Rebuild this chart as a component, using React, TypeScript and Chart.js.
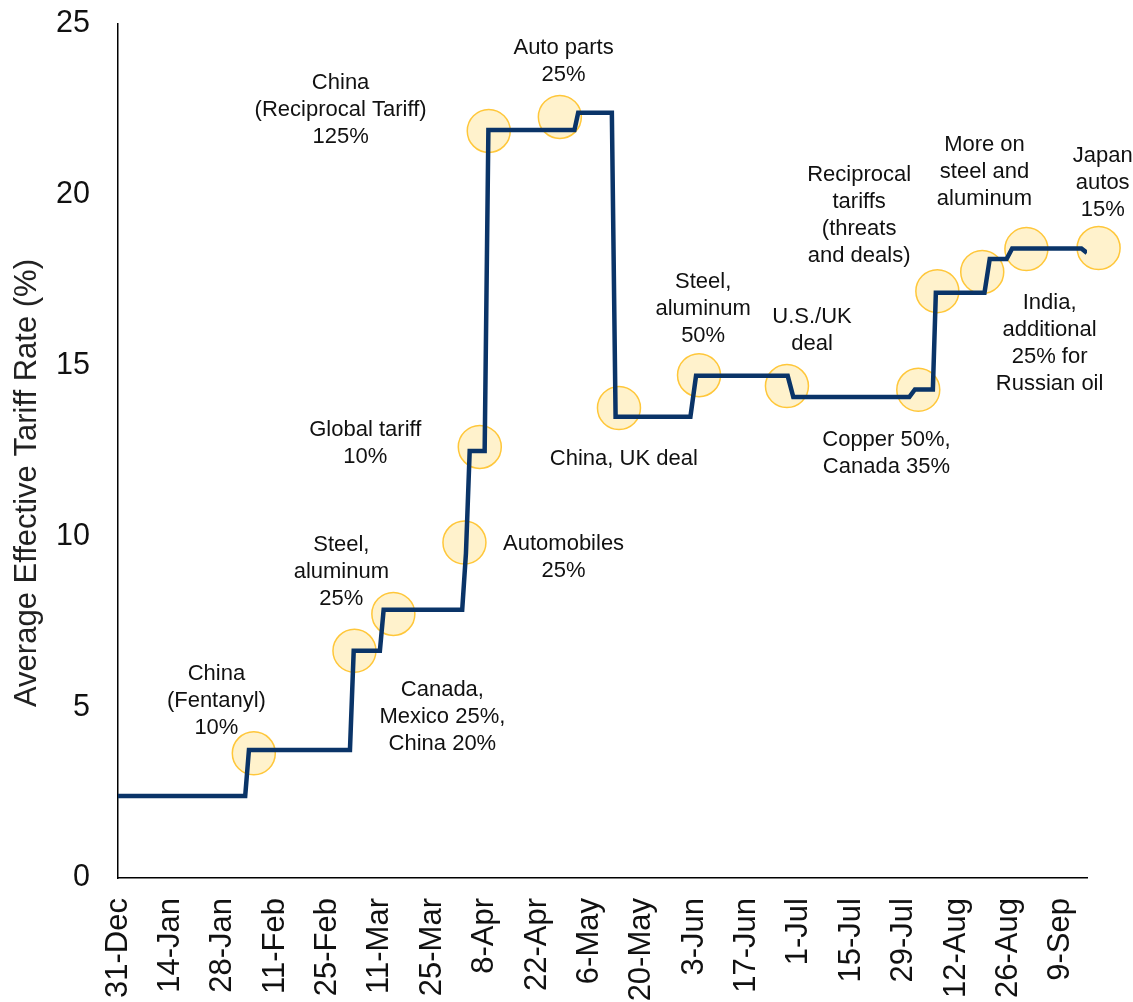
import React, { useEffect, useRef } from "react";
import { Chart, registerables } from "chart.js";

Chart.register(...registerables);

// X axis: days since 31-Dec-2024
const tickDays = [0, 14, 28, 42, 56, 70, 84, 98, 112, 126, 140, 154, 168, 182, 196, 210, 224, 238, 252];
const tickLabels = [
  "31-Dec", "14-Jan", "28-Jan", "11-Feb", "25-Feb", "11-Mar", "25-Mar", "8-Apr", "22-Apr",
  "6-May", "20-May", "3-Jun", "17-Jun", "1-Jul", "15-Jul", "29-Jul", "12-Aug", "26-Aug", "9-Sep",
];

// Average effective tariff rate (%) at change points
const rateDays = [0, 34, 35, 62, 63, 70, 71, 92, 93, 94, 98, 99, 122, 123, 132, 133, 153, 154.5, 179, 180.5, 211.5, 213, 217.8, 218.6, 231.6, 233, 237.5, 239, 257.5, 259];
const rateValues = [2.4, 2.4, 3.75, 3.75, 6.65, 6.65, 7.85, 7.85, 9.5, 12.5, 12.5, 21.9, 21.9, 22.4, 22.4, 13.5, 13.5, 14.7, 14.7, 14.08, 14.08, 14.3, 14.3, 17.13, 17.13, 18.12, 18.12, 18.43, 18.43, 18.3];

// Event markers (circles)
const eventDays = [36.3, 63.2, 73.6, 92.6, 96.7, 99.1, 118.1, 133.9, 155.3, 178.8, 213.9, 219, 231, 242.8, 262.1];
const eventValues = [3.65, 6.65, 7.73, 9.82, 12.62, 21.87, 22.28, 13.76, 14.72, 14.4, 14.29, 17.18, 17.74, 18.41, 18.44];

// Event labels
const eventLabels = [
  ["China", "(Fentanyl)", "10%"],
  ["Canada,", "Mexico 25%,", "China 20%"],
  ["Steel,", "aluminum", "25%"],
  ["Automobiles", "25%"],
  ["Global tariff", "10%"],
  ["China", "(Reciprocal Tariff)", "125%"],
  ["Auto parts", "25%"],
  ["China, UK deal"],
  ["Steel,", "aluminum", "50%"],
  ["U.S./UK", "deal"],
  ["Copper 50%,", "Canada 35%"],
  ["Reciprocal", "tariffs", "(threats", "and deals)"],
  ["More on", "steel and", "aluminum"],
  ["India,", "additional", "25% for", "Russian oil"],
  ["Japan", "autos", "15%"],
];
const labelDays = [26.3, 86.7, 59.7, 119.1, 66.1, 59.5, 119.1, 135.2, 156.4, 185.5, 205.4, 198.1, 231.6, 249, 263.2];
const labelValues = [5.18, 4.71, 8.96, 9.38, 12.72, 22.48, 23.89, 12.27, 16.66, 16.04, 12.44, 19.4, 20.67, 15.66, 20.35];

const FONT = '"Liberation Sans", Arial, sans-serif';

const eventsPlugin = {
  id: "events",
  beforeDatasetsDraw(chart: any) {
    const { ctx, scales } = chart;
    ctx.save();
    for (let i = 0; i < eventDays.length; i++) {
      const x = scales.x.getPixelForValue(eventDays[i]);
      const y = scales.y.getPixelForValue(eventValues[i]);
      ctx.beginPath();
      ctx.arc(x, y, 21.5, 0, Math.PI * 2);
      ctx.fillStyle = "#FFF2CC";
      ctx.fill();
      ctx.lineWidth = 1.5;
      ctx.strokeStyle = "#FFC73A";
      ctx.stroke();
    }
    ctx.restore();
  },
  afterDraw(chart: any) {
    const { ctx, scales } = chart;
    ctx.save();
    ctx.fillStyle = "#111";
    ctx.font = `22px ${FONT}`;
    ctx.textAlign = "center";
    ctx.textBaseline = "middle";
    const lh = 27;
    for (let i = 0; i < eventLabels.length; i++) {
      const lines = eventLabels[i];
      const cx = scales.x.getPixelForValue(labelDays[i]);
      const cy = scales.y.getPixelForValue(labelValues[i]);
      const y0 = cy - ((lines.length - 1) * lh) / 2;
      lines.forEach((t, k) => ctx.fillText(t, cx, y0 + k * lh));
    }
    // Axis title
    ctx.translate(27, 483);
    ctx.rotate(-Math.PI / 2);
    ctx.font = `31px ${FONT}`;
    ctx.fillStyle = "#222";
    ctx.fillText("Average Effective Tariff Rate (%)", 0, 0);
    ctx.restore();
  },
};

const zeroPad = (s: any) => {
  s.paddingTop = 0;
  s.paddingBottom = 0;
  s.paddingLeft = 0;
  s.paddingRight = 0;
};

export default function App() {
  const ref = useRef<HTMLCanvasElement | null>(null);
  useEffect(() => {
    if (!ref.current) return;
    const chart = new Chart(ref.current, {
      type: "line",
      data: {
        datasets: [
          {
            data: rateDays.map((d, i) => ({ x: d, y: rateValues[i] })),
            borderColor: "#0A3468",
            borderWidth: 4.5,
            pointRadius: 0,
            tension: 0,
            fill: false,
            borderJoinStyle: "miter",
          },
        ],
      },
      options: {
        animation: false,
        responsive: false,
        devicePixelRatio: 1,
        layout: { padding: { left: 0, top: 24, right: 46, bottom: 0 } },
        plugins: { legend: { display: false }, tooltip: { enabled: false } },
        scales: {
          x: {
            type: "linear",
            min: 0,
            max: 259,
            border: { display: true, color: "#000", width: 1.5 },
            grid: { display: false, drawTicks: false },
            afterBuildTicks: (s: any) => {
              s.ticks = tickDays.map((v) => ({ value: v }));
            },
            afterFit: (s: any) => {
              s.height = 124;
              zeroPad(s);
            },
            ticks: {
              autoSkip: false,
              minRotation: 90,
              maxRotation: 90,
              padding: 20,
              color: "#111",
              font: { family: FONT, size: 31 },
              callback: (v: any) => {
                const idx = tickDays.indexOf(Number(v));
                return idx >= 0 ? tickLabels[idx] : "";
              },
            },
          },
          y: {
            min: 0,
            max: 25,
            border: { display: true, color: "#000", width: 1.5 },
            grid: { display: false, drawTicks: false },
            afterFit: (s: any) => {
              s.width = 118;
              zeroPad(s);
            },
            ticks: {
              stepSize: 5,
              padding: 28,
              color: "#111",
              font: { family: FONT, size: 30.5 },
            },
          },
        },
      },
      plugins: [eventsPlugin],
    });
    return () => chart.destroy();
  }, []);
  return (
    <div style={{ position: "absolute", left: 0, top: 0, width: 1133, height: 1002 }}>
      <canvas ref={ref} width={1133} height={1002} style={{ width: 1133, height: 1002 }} />
    </div>
  );
}
